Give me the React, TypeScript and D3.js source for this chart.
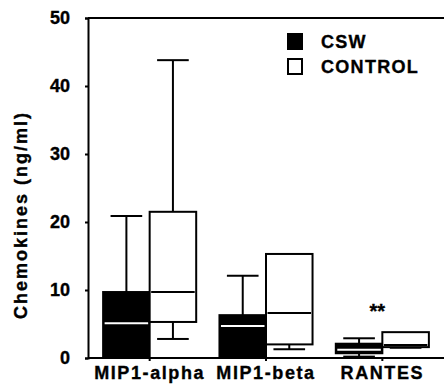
import React, { useEffect, useRef } from 'react';
import * as d3 from 'd3';

const categories = ['MIP1-alpha', 'MIP1-beta', 'RANTES'];
const groups = ['CSW', 'CONTROL'];
const yTicks = [0, 10, 20, 30, 40, 50];

// box stats, ng/ml
const cswStats = [
  { min: 0, q1: 0, median: 5.1, q3: 9.7, max: 20.9 },
  { min: 0, q1: 0, median: 4.7, q3: 6.3, max: 12.1 },
  { min: 0.2, q1: 0.7, median: 1.2, q3: 2.1, max: 2.9 },
];
const controlStats = [
  { min: 2.8, q1: 5.3, median: 9.7, q3: 21.5, max: 43.8 },
  { min: 1.3, q1: 2.0, median: 6.6, q3: 15.3, max: 15.3 },
  { min: 1.5, q1: 1.6, median: 1.9, q3: 3.8, max: 3.8 },
];
const significance = ['', '', '**'];

const FONT = '"Liberation Sans", Arial, Helvetica, sans-serif';

const App = () => {
  const svgRef = useRef<SVGSVGElement>(null);
  const width = 444;
  const height = 392;

  useEffect(() => {
    const svg = d3.select(svgRef.current);
    svg.selectAll('*').remove();

    const margin = { top: 18, right: 0, bottom: 34, left: 88 };

    const x = d3
      .scaleBand()
      .domain(categories)
      .range([margin.left, width - margin.right])
      .paddingInner(0.2)
      .paddingOuter(0.13);

    const sub = d3.scaleBand().domain(groups).range([0, x.bandwidth()]).padding(0);

    const y = d3
      .scaleLinear()
      .domain([0, 50])
      .range([height - margin.bottom, margin.top]);

    const boldText = (sel, size = 18) =>
      sel
        .attr('font-family', FONT)
        .attr('font-size', size)
        .attr('font-weight', 'bold')
        .attr('fill', '#000')
        .attr('stroke', '#000')
        .attr('stroke-width', 0.35);

    // frame: top line (left and bottom come from the axes)
    svg
      .append('line')
      .attr('x1', margin.left)
      .attr('x2', width)
      .attr('y1', y(50))
      .attr('y2', y(50))
      .attr('stroke', '#000')
      .attr('stroke-width', 2);

    const yAxis = svg
      .append('g')
      .attr('transform', `translate(${margin.left},0)`)
      .call(d3.axisLeft(y).tickValues(yTicks).tickSize(3).tickPadding(15).tickFormat(d3.format('d')));
    yAxis.select('.domain').attr('stroke-width', 2);
    yAxis.selectAll('.tick line').attr('stroke-width', 2);
    boldText(yAxis.selectAll('.tick text'));

    const xAxis = svg
      .append('g')
      .attr('transform', `translate(0,${y(0)})`)
      .call(d3.axisBottom(x).tickSize(3).tickPadding(5));
    xAxis.select('.domain').attr('d', `M${margin.left},0H${width}`).attr('stroke-width', 2);
    xAxis.selectAll('.tick line').attr('stroke-width', 2);
    boldText(xAxis.selectAll('.tick text')).attr('letter-spacing', 1.6);

    // y label
    boldText(
      svg
        .append('text')
        .attr('transform', `translate(27,215) rotate(-90)`)
        .attr('text-anchor', 'middle')
        .attr('letter-spacing', 2)
        .text('Chemokines (ng/ml)')
    );

    const drawBoxes = (stats, group, fill, medianColor) => {
      const bw = sub.bandwidth();
      const g = svg.append('g');
      const items = stats.map((s, i) => ({ ...s, cat: categories[i] }));
      const left = (d) => x(d.cat) + sub(group);
      const mid = (d) => left(d) + bw / 2;
      const capW = bw * 0.68;

      // whiskers
      g.selectAll('upper')
        .data(items.filter((d) => d.max > d.q3))
        .join('line')
        .attr('x1', mid)
        .attr('x2', mid)
        .attr('y1', (d) => y(d.q3))
        .attr('y2', (d) => y(d.max))
        .attr('stroke', '#000')
        .attr('stroke-width', 2);
      g.selectAll('upperCap')
        .data(items.filter((d) => d.max > d.q3))
        .join('line')
        .attr('x1', (d) => mid(d) - capW / 2)
        .attr('x2', (d) => mid(d) + capW / 2)
        .attr('y1', (d) => y(d.max))
        .attr('y2', (d) => y(d.max))
        .attr('stroke', '#000')
        .attr('stroke-width', 2);
      g.selectAll('lower')
        .data(items.filter((d) => d.min < d.q1))
        .join('line')
        .attr('x1', mid)
        .attr('x2', mid)
        .attr('y1', (d) => y(d.q1))
        .attr('y2', (d) => y(d.min))
        .attr('stroke', '#000')
        .attr('stroke-width', 2);
      g.selectAll('lowerCap')
        .data(items.filter((d) => d.min < d.q1))
        .join('line')
        .attr('x1', (d) => mid(d) - capW / 2)
        .attr('x2', (d) => mid(d) + capW / 2)
        .attr('y1', (d) => y(d.min))
        .attr('y2', (d) => y(d.min))
        .attr('stroke', '#000')
        .attr('stroke-width', 2);

      // boxes
      g.selectAll('box')
        .data(items)
        .join('rect')
        .attr('x', left)
        .attr('y', (d) => y(d.q3))
        .attr('width', bw)
        .attr('height', (d) => y(d.q1) - y(d.q3))
        .attr('fill', fill)
        .attr('stroke', '#000')
        .attr('stroke-width', 2);

      // medians
      g.selectAll('median')
        .data(items)
        .join('line')
        .attr('x1', (d) => left(d) + 1.5)
        .attr('x2', (d) => left(d) + bw - 1.5)
        .attr('y1', (d) => y(d.median))
        .attr('y2', (d) => y(d.median))
        .attr('stroke', medianColor)
        .attr('stroke-width', 2);
    };

    drawBoxes(cswStats, 'CSW', '#000', '#fff');
    drawBoxes(controlStats, 'CONTROL', '#fff', '#000');

    // significance marks
    boldText(
      svg
        .append('g')
        .selectAll('text')
        .data(categories.map((c, i) => ({ c, s: significance[i] })).filter((d) => d.s))
        .join('text')
        .attr('x', (d) => x(d.c) + x.bandwidth() / 2 - 5)
        .attr('y', 318)
        .attr('text-anchor', 'middle')
        .text((d) => d.s),
      20
    );

    // legend
    const legend = svg.append('g').attr('transform', 'translate(288,34)');
    const fills = ['#000', '#fff'];
    groups.forEach((gName, i) => {
      const row = legend.append('g').attr('transform', `translate(0,${i * 25})`);
      row
        .append('rect')
        .attr('x', 0)
        .attr('y', 0)
        .attr('width', 14)
        .attr('height', 15)
        .attr('fill', fills[i])
        .attr('stroke', '#000')
        .attr('stroke-width', 2);
      boldText(
        row
          .append('text')
          .attr('x', 33)
          .attr('y', 14)
          .attr('letter-spacing', 1.3)
          .text(gName)
      );
    });
  }, []);

  return (
    <svg
      ref={svgRef}
      width={width}
      height={height}
      style={{ position: 'absolute', left: 0, top: 0, background: '#fff' }}
    />
  );
};

export default App;
